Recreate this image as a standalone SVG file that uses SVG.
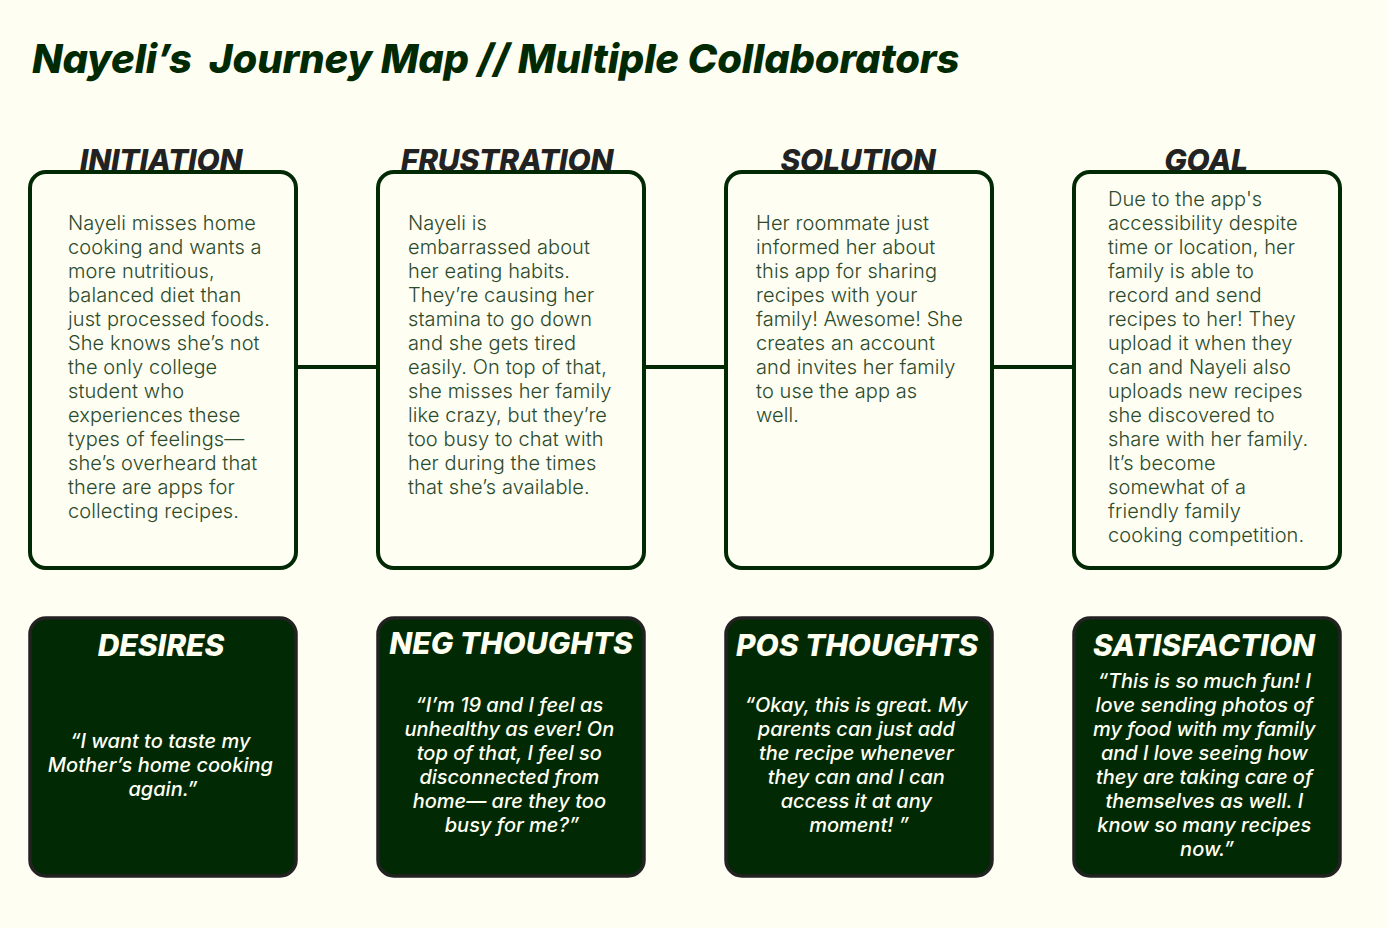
<svg xmlns="http://www.w3.org/2000/svg" width="1388" height="928" viewBox="0 0 1388 928">
  <style>
    .bg { fill: #fefef2; }
    .title { font-family: Inter, "Liberation Sans", sans-serif; font-weight: 800; font-style: italic; font-size: 40px; fill: #012a04; white-space: pre; letter-spacing: -0.15px; }
    .stage { font-family: Inter, "Liberation Sans", sans-serif; font-weight: 800; font-style: italic; font-size: 30px; fill: #222222; text-anchor: middle; letter-spacing: -0.2px; }
    .card { fill: #fefef2; stroke: #012a04; stroke-width: 4; }
    .body { font-family: Inter, "Liberation Sans", sans-serif; font-weight: 300; font-size: 20px; fill: #2c4a2c; letter-spacing: 0.1px; }
    .mood { fill: #012a04; stroke: #222222; stroke-width: 3.5; }
    .moodTitle { font-family: Inter, "Liberation Sans", sans-serif; font-weight: 800; font-style: italic; font-size: 30px; fill: #fffff2; text-anchor: middle; }
    .quote { font-family: Inter, "Liberation Sans", sans-serif; font-weight: 500; font-style: italic; font-size: 20px; fill: #fffff2; text-anchor: middle; }
    .link { stroke: #012a04; stroke-width: 4; fill: none; }
  </style>

  <rect class="bg" x="0" y="0" width="1388" height="928"/>

  <text class="title" x="32" y="73" xml:space="preserve">Nayeli’s  Journey Map // Multiple Collaborators</text>

  <!-- stage headings sit behind the card tops -->
  <text class="stage" x="161" y="171">INITIATION</text>
  <text class="stage" x="507" y="171">FRUSTRATION</text>
  <text class="stage" x="858" y="171">SOLUTION</text>
  <text class="stage" x="1206" y="171">GOAL</text>

  <g id="connectors">
    <line class="link" x1="296" y1="367" x2="378" y2="367"/>
    <line class="link" x1="644" y1="367" x2="726" y2="367"/>
    <line class="link" x1="992" y1="367" x2="1074" y2="367"/>
  </g>

  <g id="initiation">
    <rect class="card" x="30" y="172" width="266" height="396" rx="16"/>
    <text class="body" x="68" y="230">
      <tspan x="68" dy="0">Nayeli misses home</tspan>
      <tspan x="68" dy="24">cooking and wants a</tspan>
      <tspan x="68" dy="24">more nutritious,</tspan>
      <tspan x="68" dy="24">balanced diet than</tspan>
      <tspan x="68" dy="24">just processed foods.</tspan>
      <tspan x="68" dy="24">She knows she’s not</tspan>
      <tspan x="68" dy="24">the only college</tspan>
      <tspan x="68" dy="24">student who</tspan>
      <tspan x="68" dy="24">experiences these</tspan>
      <tspan x="68" dy="24">types of feelings—</tspan>
      <tspan x="68" dy="24">she’s overheard that</tspan>
      <tspan x="68" dy="24">there are apps for</tspan>
      <tspan x="68" dy="24">collecting recipes.</tspan>
    </text>
  </g>

  <g id="frustration">
    <rect class="card" x="378" y="172" width="266" height="396" rx="16"/>
    <text class="body" x="408" y="230">
      <tspan x="408" dy="0">Nayeli is</tspan>
      <tspan x="408" dy="24">embarrassed about</tspan>
      <tspan x="408" dy="24">her eating habits.</tspan>
      <tspan x="408" dy="24">They’re causing her</tspan>
      <tspan x="408" dy="24">stamina to go down</tspan>
      <tspan x="408" dy="24">and she gets tired</tspan>
      <tspan x="408" dy="24">easily. On top of that,</tspan>
      <tspan x="408" dy="24">she misses her family</tspan>
      <tspan x="408" dy="24">like crazy, but they’re</tspan>
      <tspan x="408" dy="24">too busy to chat with</tspan>
      <tspan x="408" dy="24">her during the times</tspan>
      <tspan x="408" dy="24">that she’s available.</tspan>
    </text>
  </g>

  <g id="solution">
    <rect class="card" x="726" y="172" width="266" height="396" rx="16"/>
    <text class="body" x="756" y="230">
      <tspan x="756" dy="0">Her roommate just</tspan>
      <tspan x="756" dy="24">informed her about</tspan>
      <tspan x="756" dy="24">this app for sharing</tspan>
      <tspan x="756" dy="24">recipes with your</tspan>
      <tspan x="756" dy="24">family! Awesome! She</tspan>
      <tspan x="756" dy="24">creates an account</tspan>
      <tspan x="756" dy="24">and invites her family</tspan>
      <tspan x="756" dy="24">to use the app as</tspan>
      <tspan x="756" dy="24">well.</tspan>
    </text>
  </g>

  <g id="goal">
    <rect class="card" x="1074" y="172" width="266" height="396" rx="16"/>
    <text class="body" x="1108" y="206">
      <tspan x="1108" dy="0">Due to the app's</tspan>
      <tspan x="1108" dy="24">accessibility despite</tspan>
      <tspan x="1108" dy="24">time or location, her</tspan>
      <tspan x="1108" dy="24">family is able to</tspan>
      <tspan x="1108" dy="24">record and send</tspan>
      <tspan x="1108" dy="24">recipes to her! They</tspan>
      <tspan x="1108" dy="24">upload it when they</tspan>
      <tspan x="1108" dy="24">can and Nayeli also</tspan>
      <tspan x="1108" dy="24">uploads new recipes</tspan>
      <tspan x="1108" dy="24">she discovered to</tspan>
      <tspan x="1108" dy="24">share with her family.</tspan>
      <tspan x="1108" dy="24">It’s become</tspan>
      <tspan x="1108" dy="24">somewhat of a</tspan>
      <tspan x="1108" dy="24">friendly family</tspan>
      <tspan x="1108" dy="24">cooking competition.</tspan>
    </text>
  </g>

  <g id="desires">
    <rect class="mood" x="30" y="618" width="266" height="258" rx="16"/>
    <text class="moodTitle" x="161" y="656">DESIRES</text>
    <text class="quote" x="163" y="748">
      <tspan x="163" dy="0">“I want to taste my</tspan>
      <tspan x="163" dy="24">Mother’s home cooking</tspan>
      <tspan x="163" dy="24">again.”</tspan>
    </text>
  </g>

  <g id="neg-thoughts">
    <rect class="mood" x="378" y="618" width="266" height="258" rx="16"/>
    <text class="moodTitle" x="511" y="654">NEG THOUGHTS</text>
    <text class="quote" x="512" y="712">
      <tspan x="512" dy="0">“I’m 19 and I feel as</tspan>
      <tspan x="512" dy="24">unhealthy as ever! On</tspan>
      <tspan x="512" dy="24">top of that, I feel so</tspan>
      <tspan x="512" dy="24">disconnected from</tspan>
      <tspan x="512" dy="24">home— are they too</tspan>
      <tspan x="512" dy="24">busy for me?”</tspan>
    </text>
  </g>

  <g id="pos-thoughts">
    <rect class="mood" x="726" y="618" width="266" height="258" rx="16"/>
    <text class="moodTitle" x="857" y="656">POS THOUGHTS</text>
    <text class="quote" x="859" y="712">
      <tspan x="859" dy="0">“Okay, this is great. My</tspan>
      <tspan x="859" dy="24">parents can just add</tspan>
      <tspan x="859" dy="24">the recipe whenever</tspan>
      <tspan x="859" dy="24">they can and I can</tspan>
      <tspan x="859" dy="24">access it at any</tspan>
      <tspan x="859" dy="24">moment! ”</tspan>
    </text>
  </g>

  <g id="satisfaction">
    <rect class="mood" x="1074" y="618" width="266" height="258" rx="16"/>
    <text class="moodTitle" x="1204" y="656">SATISFACTION</text>
    <text class="quote" x="1207" y="688">
      <tspan x="1207" dy="0">“This is so much fun! I</tspan>
      <tspan x="1207" dy="24">love sending photos of</tspan>
      <tspan x="1207" dy="24">my food with my family</tspan>
      <tspan x="1207" dy="24">and I love seeing how</tspan>
      <tspan x="1207" dy="24">they are taking care of</tspan>
      <tspan x="1207" dy="24">themselves as well. I</tspan>
      <tspan x="1207" dy="24">know so many recipes</tspan>
      <tspan x="1207" dy="24">now.”</tspan>
    </text>
  </g>
</svg>
